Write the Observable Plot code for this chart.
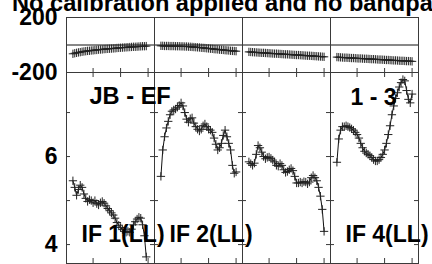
<!DOCTYPE html>
<html>
<head>
<meta charset="utf-8">
<script src="https://cdn.jsdelivr.net/npm/d3@7"></script>
<script src="https://cdn.jsdelivr.net/npm/@observablehq/plot@0.6"></script>
<style>
  html, body { margin: 0; padding: 0; background: #fff; }
  #page { position: relative; width: 432px; height: 264px; overflow: hidden; background: #fff;
          font-family: "Liberation Sans", Arial, Helvetica, sans-serif; font-weight: bold; }
  #title { position: absolute; left: 12px; top: -8px; font-size: 23.6px; line-height: 23px; white-space: nowrap; color: #000; }
  #phase, #amp { position: absolute; left: 0; }
  #phase { top: 0; }
  #amp { top: 60px; }
  svg { overflow: visible; }
</style>
</head>
<body>
<div id="page">
  <div id="amp"></div>
  <div id="phase"></div>
  <div id="title">No calibration applied and no bandpass</div>
</div>
<script>
// ---- data ----
const IFS = ["IF 1", "IF 2", "IF 3", "IF 4"];
const firstChannel = 4;
const channelTicks = [15, 30, 45];
const ampTicks = [4, 5, 6, 7];
const ampTickLabels = [4, 6];
const phaseTickLabels = [-200, 200];

const ampIF1 = [5.45,5.30,5.12,5.25,5.35,5.30,5.15,5.05,4.98,5.02,5.00,4.95,5.00,4.93,4.90,4.95,4.98,4.94,4.88,4.82,4.77,4.72,4.67,4.60,4.50,4.44,4.39,4.34,4.30,4.28,4.30,4.28,4.35,4.45,4.52,4.58,4.62,4.60,4.45,4.20,3.72];
const ampIF2 = [5.55,6.15,6.45,6.65,6.80,6.95,7.03,7.06,7.08,7.12,7.16,7.22,7.15,7.00,6.85,6.78,6.86,6.88,6.76,6.68,6.62,6.58,6.62,6.70,6.74,6.68,6.62,6.60,6.55,6.42,6.28,6.15,6.20,6.30,6.48,6.60,6.45,6.30,6.15,5.80,5.62,5.65];
const ampIF3 = [5.88,5.84,5.80,5.85,6.05,6.25,6.20,6.10,6.00,5.95,5.98,5.99,5.96,5.92,5.88,5.80,5.78,5.84,5.80,5.70,5.64,5.66,5.70,5.73,5.68,5.55,5.40,5.40,5.42,5.40,5.43,5.42,5.38,5.42,5.52,5.57,5.52,5.45,5.30,5.10,4.80,4.30];
const ampIF4 = [5.87,6.40,6.60,6.68,6.68,6.70,6.68,6.66,6.63,6.60,6.55,6.50,6.42,6.30,6.20,6.12,6.08,6.05,6.02,5.98,5.93,5.90,5.90,5.93,5.98,6.05,6.15,6.30,6.50,6.70,6.95,7.15,7.32,7.45,7.58,7.68,7.75,7.72,7.50,7.30,7.22,7.42];

const phaseIF1 = [-64,-60,-57,-54,-52,-49,-47,-45,-43,-42,-40,-39,-37,-36,-34,-33,-32,-30,-29,-28,-27,-26,-25,-24,-22,-21,-20,-19,-18,-17,-16,-15,-14,-13,-13,-12,-11,-10,-9,-9,-8];
const phaseIF2 = [-6,-6,-7,-7,-7,-8,-8,-8,-9,-9,-9,-10,-10,-11,-11,-12,-13,-14,-15,-16,-17,-18,-20,-21,-22,-24,-25,-27,-28,-30,-31,-32,-34,-35,-36,-38,-39,-40,-42,-43,-44,-45];
const phaseIF3 = [-50,-51,-52,-53,-54,-55,-56,-57,-57,-58,-59,-60,-61,-62,-63,-63,-64,-65,-66,-67,-68,-68,-69,-70,-71,-72,-73,-73,-74,-75,-76,-77,-78,-78,-79,-80,-81,-82,-83,-84,-85,-86];
const phaseIF4 = [-88,-89,-90,-91,-92,-92,-93,-94,-95,-95,-96,-97,-98,-98,-99,-100,-100,-101,-102,-103,-103,-104,-105,-106,-106,-107,-108,-109,-109,-110,-111,-112,-112,-113,-114,-115,-115,-116,-117,-117,-118,-119];

const baselineLabel = "JB - EF";
const baselineLabelIF = "IF 1";
const stokesRangeLabel = "1 - 3";
const stokesRangeLabelIF = "IF 4";
const ifLabelIFs = ["IF 1", "IF 2", "IF 4"];
const ifLabelTexts = ["IF 1(LL)", "IF 2(LL)", "IF 4(LL)"];

// ---- build tables ----
const ampSeries = [ampIF1, ampIF2, ampIF3, ampIF4];
const phaseSeries = [phaseIF1, phaseIF2, phaseIF3, phaseIF4];
const ampRows = IFS.flatMap((name, k) => ampSeries[k].map((v, i) => ({IF: name, ch: firstChannel + i, value: v})));
const phaseRows = IFS.flatMap((name, k) => phaseSeries[k].map((v, i) => ({IF: name, ch: firstChannel + i, value: v})));
const ifLabelRows = ifLabelIFs.map((name, i) => ({IF: name, text: ifLabelTexts[i]}));

const W = 432, ML = 66, MR = 14;
const facetW = (W - ML - MR) / IFS.length;
const font = {fontFamily: "'Liberation Sans', Arial, Helvetica, sans-serif", fontSize: "23px", fontWeight: "bold",
              background: "transparent", overflow: "visible", color: "#000"};
const ink = "#111", frameInk = "#3a3a3a";

// ---- phase panel ----
const pTop = 17, pBottom = 8, pH = 80;
const pInner = pH - pTop - pBottom;
const phase = Plot.plot({
  width: W, height: pH, marginTop: pTop, marginBottom: pBottom, marginLeft: ML, marginRight: MR,
  style: font,
  fx: {domain: IFS, axis: null, padding: 0},
  x: {domain: [0.5, 48.5], axis: null},
  y: {domain: [-200, 200], ticks: phaseTickLabels, tickSize: 0, tickPadding: 9, tickFormat: d => String(d), label: null},
  marks: [
    Plot.ruleY([0], {stroke: ink, strokeWidth: 1}),
    Plot.tickX(channelTicks, {x: d => d, insetTop: pInner - 4, stroke: frameInk}),
    Plot.line(phaseRows, {fx: "IF", x: "ch", y: "value", stroke: ink, strokeWidth: 1}),
    Plot.dot(phaseRows, {fx: "IF", x: "ch", y: "value", symbol: "plus", r: 2.8, stroke: "#222", strokeWidth: 1}),
    Plot.frame({stroke: frameInk, strokeWidth: 1})
  ]
});
document.getElementById("phase").appendChild(phase);

// ---- amplitude panel ----
const aTop = 12, aBottom = 1, aH = 204;
const aInner = aH - aTop - aBottom;
const amp = Plot.plot({
  width: W, height: aH, marginTop: aTop, marginBottom: aBottom, marginLeft: ML, marginRight: MR,
  style: font,
  fx: {domain: IFS, axis: null, padding: 0},
  x: {domain: [0.5, 48.5], axis: null},
  y: {domain: [3.57, 7.91], ticks: ampTickLabels, tickSize: 0, tickPadding: 9, tickFormat: d => String(d), label: null},
  marks: [
    Plot.tickX(channelTicks, {x: d => d, insetBottom: aInner - 5, stroke: frameInk}),
    Plot.tickX(channelTicks, {x: d => d, insetTop: aInner - 5, stroke: frameInk}),
    Plot.tickY(ampTicks, {y: d => d, insetRight: facetW - 4, stroke: frameInk}),
    Plot.tickY(ampTicks, {y: d => d, insetLeft: facetW - 4, stroke: frameInk}),
    Plot.line(ampRows, {fx: "IF", x: "ch", y: "value", stroke: ink, strokeWidth: 1}),
    Plot.dot(ampRows, {fx: "IF", x: "ch", y: "value", symbol: "plus", r: 2.8, stroke: "#222", strokeWidth: 1}),
    Plot.frame({stroke: frameInk, strokeWidth: 1}),
    Plot.text([{IF: baselineLabelIF, text: baselineLabel}], {fx: "IF", text: "text", frameAnchor: "top-left", textAnchor: "start", lineAnchor: "top", dx: 23, dy: 15, fill: "#000", fontSize: 23.6}),
    Plot.text([{IF: stokesRangeLabelIF, text: stokesRangeLabel}], {fx: "IF", text: "text", frameAnchor: "top-left", textAnchor: "start", lineAnchor: "top", dx: 20, dy: 16, fill: "#000"}),
    Plot.text(ifLabelRows, {fx: "IF", text: "text", frameAnchor: "top-left", textAnchor: "start", lineAnchor: "top", dx: 15, dy: 153, fill: "#000"})
  ]
});
document.getElementById("amp").appendChild(amp);
</script>
</body>
</html>
